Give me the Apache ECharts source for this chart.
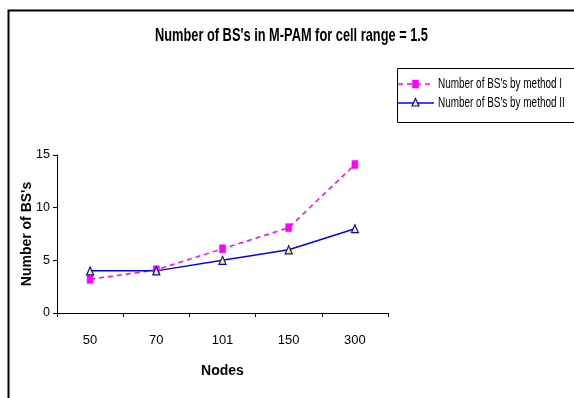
<!DOCTYPE html>
<html><head><meta charset="utf-8">
<script src="https://cdn.jsdelivr.net/npm/echarts@6/dist/echarts.min.js"></script>
<style>html,body{margin:0;padding:0;background:#fff}#c{width:574px;height:398px}</style>
</head><body><div id="c"></div>
<script>
var categories = ['50', '70', '101', '150', '300'];
var methodI = [3.2, 4.1, 6.1, 8.1, 14.1];
var methodII = [4, 4, 5, 6, 8];
var yTicks = [0, 5, 10, 15];
var seriesNames = ["Number of BS's by method I", "Number of BS's by method II"];
var titleText = "Number of BS's in M-PAM for cell range = 1.5";
var SANS = '"Liberation Sans", Arial, sans-serif';

// condensed text helper: measure the natural width to compute horizontal squeeze
var mctx = document.createElement('canvas').getContext('2d');
function squeeze(text, font, targetW) {
  mctx.font = font;
  return targetW / mctx.measureText(text).width;
}
var titleFont = 'bold 19px ' + SANS;
var legFont = '15px ' + SANS;
var titleScale = squeeze(titleText, titleFont, 273);
var legScale = squeeze(seriesNames[0], legFont, 124);

var chart = echarts.init(document.getElementById('c'), null, {renderer: 'canvas'});
chart.setOption({
  animation: false,
  backgroundColor: '#fff',
  graphic: [
    {type: 'rect', left: 6, top: 8, silent: true, z: 10,
     shape: {width: 620, height: 430},
     style: {fill: 'none', stroke: '#000', lineWidth: 2}},
    {type: 'text', x: 291.5, y: 36, scaleX: titleScale, z: 10,
     style: {text: titleText, x: 0, y: 0, font: titleFont, fill: '#000',
             textAlign: 'center', textVerticalAlign: 'middle'}},
    // legend box
    {type: 'rect', left: 397, top: 68, silent: true, z: 10,
     shape: {x: 0, y: 0, width: 200, height: 54},
     style: {fill: '#fff', stroke: '#000', lineWidth: 1}},
    {type: 'line', z: 11, shape: {x1: 398, y1: 84, x2: 434, y2: 84},
     style: {stroke: '#ff00ff', lineWidth: 1.5, lineDash: [5, 4]}},
    {type: 'rect', z: 12, shape: {x: 412.5, y: 80, width: 6, height: 8},
     style: {fill: '#ff00ff', stroke: '#ff00ff', lineWidth: 0.5}},
    {type: 'text', x: 438, y: 84, scaleX: legScale, z: 11,
     style: {text: seriesNames[0], x: 0, y: 0, font: legFont, fill: '#000',
             textAlign: 'left', textVerticalAlign: 'middle'}},
    {type: 'line', z: 11, shape: {x1: 398, y1: 103, x2: 434, y2: 103},
     style: {stroke: '#0000ff', lineWidth: 1.5}},
    {type: 'polygon', z: 12, shape: {points: [[415.5, 98.5], [419, 106], [412, 106]]},
     style: {fill: '#ffff00', stroke: '#0000ff', lineWidth: 1.2}},
    {type: 'text', x: 438, y: 103, scaleX: legScale, z: 11,
     style: {text: seriesNames[1], x: 0, y: 0, font: legFont, fill: '#000',
             textAlign: 'left', textVerticalAlign: 'middle'}}
  ],
  grid: {left: 57, right: 186, top: 155, bottom: 85, containLabel: false},
  xAxis: {
    type: 'category', data: categories, boundaryGap: true,
    name: 'Nodes', nameLocation: 'middle', nameGap: 51,
    nameTextStyle: {fontFamily: SANS, fontWeight: 'bold', fontSize: 14, color: '#000'},
    axisLine: {lineStyle: {color: '#000', width: 1}},
    axisTick: {show: true, length: 4, lineStyle: {color: '#000'}},
    axisLabel: {fontFamily: SANS, fontSize: 13, color: '#000', margin: 21},
    splitLine: {show: false}
  },
  yAxis: {
    type: 'value', min: 0, max: 15, interval: 5,
    name: "Number of BS's", nameLocation: 'middle', nameGap: 23, nameRotate: 90,
    nameMoveOverlap: false,
    nameTextStyle: {fontFamily: SANS, fontWeight: 'bold', fontSize: 14, color: '#000'},
    axisLine: {show: true, lineStyle: {color: '#000', width: 1}},
    axisTick: {show: true, length: 4, lineStyle: {color: '#000'}},
    axisLabel: {fontFamily: SANS, fontSize: 12.5, color: '#000', margin: 7,
      formatter: function (v) { return yTicks.indexOf(v) >= 0 ? String(v) : ''; }},
    splitLine: {show: false}
  },
  series: [{
    name: seriesNames[0], type: 'line', data: methodI,
    symbol: 'rect', symbolSize: [6, 8],
    lineStyle: {color: '#ff00ff', width: 1.5, type: [5, 4]},
    itemStyle: {color: '#ff00ff', borderColor: '#ff00ff', borderWidth: 0.5}
  }, {
    name: seriesNames[1], type: 'line', data: methodII,
    symbol: 'triangle', symbolSize: [7, 8],
    lineStyle: {color: '#0000ff', width: 1.5, type: 'solid'},
    itemStyle: {color: '#ffff00', borderColor: '#0000ff', borderWidth: 1.2}
  }]
});
</script></body></html>
